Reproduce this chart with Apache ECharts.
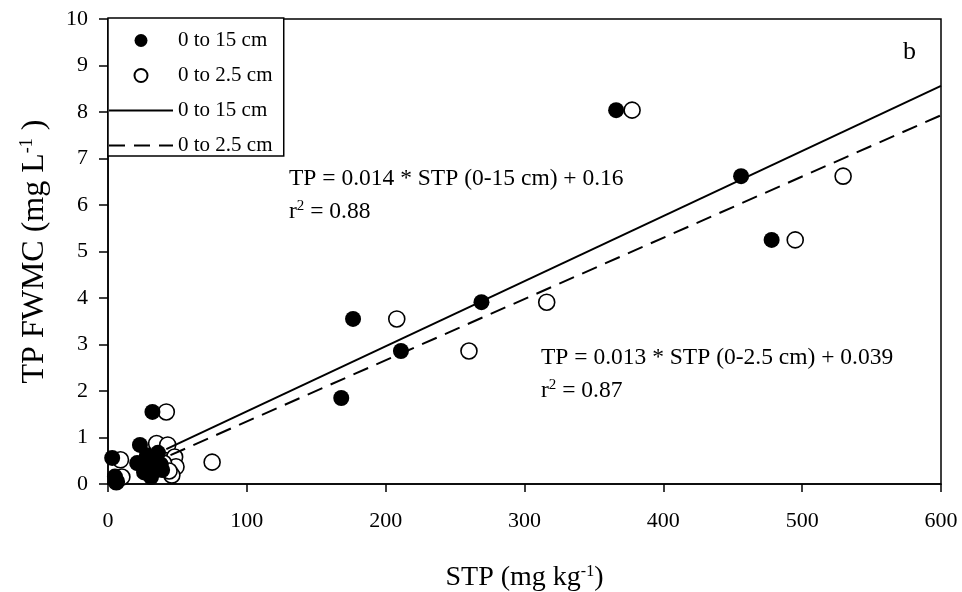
<!DOCTYPE html>
<html>
<head>
<meta charset="utf-8">
<script src="https://cdn.jsdelivr.net/npm/echarts@6/dist/echarts.min.js"></script>
<style>
html,body{margin:0;padding:0;background:#fff;}
#chart{width:962px;height:592px;}
</style>
</head>
<body>
<div id="chart"></div>
<script>
// ---- data ----
var xTicks = [0, 100, 200, 300, 400, 500, 600];
var yTicks = [0, 1, 2, 3, 4, 5, 6, 7, 8, 9, 10];

// 0 to 15 cm (filled circles)
var stp15 = [366, 456, 478, 176.5, 269, 211, 168, 32, 23, 3, 5, 6, 21, 25, 31, 34, 36, 39, 29, 26, 33, 38, 28];
var tp15  = [8.04, 6.62, 5.25, 3.55, 3.91, 2.86, 1.85, 1.55, 0.84, 0.56, 0.16, 0.05, 0.45, 0.37, 0.15, 0.52, 0.67, 0.30, 0.57, 0.25, 0.28, 0.42, 0.62];

// 0 to 2.5 cm (open circles)
var stp25 = [377.5, 529.5, 495, 208, 316, 260, 75, 42, 35, 43, 48, 49, 46, 9, 10, 40, 44, 6];
var tp25  = [8.04, 6.62, 5.25, 3.55, 3.91, 2.86, 0.47, 1.55, 0.87, 0.84, 0.58, 0.37, 0.19, 0.52, 0.15, 0.45, 0.28, 0.05];

// regression lines (end points)
var fit15X = [42, 600];
var fit15Y = [0.75, 8.56];
var fit25X = [45, 600];
var fit25Y = [0.62, 7.93];

function pairs(xs, ys){ return xs.map(function(x,i){ return [x, ys[i]]; }); }

var FONT = '"Liberation Serif", "Times New Roman", serif';
var HIDDEN = 'rgba(0,0,0,0)';

var chart = echarts.init(document.getElementById('chart'), null, {renderer:'canvas'});
chart.setOption({
  animation: false,
  backgroundColor: '#fff',
  textStyle: {fontFamily: FONT, color: '#000'},
  grid: {left: 108, right: 21, top: 19, bottom: 108, containLabel: false, outerBoundsMode: 'none',
    show: true, borderColor: '#000', borderWidth: 1.5, backgroundColor: 'transparent'},
  legend: {
    left: 108, top: 18, orient: 'vertical',
    data: ['0 to 15 cm', '0 to 2.5 cm', '0 to 15 cm ', '0 to 2.5 cm '],
    itemWidth: 64, itemHeight: 13, itemGap: 14,
    padding: [12, 6, 0, 0],
    borderColor: '#000', borderWidth: 1.5, borderRadius: 0,
    backgroundColor: '#fff',
    textStyle: {fontFamily: FONT, fontSize: 21, color: '#000'},
    selectedMode: false
  },
  xAxis: {
    type: 'value', min: 0, max: 600, interval: 100,
    name: 'STP (mg kg{sup|-1})',
    nameLocation: 'middle', nameGap: 80,
    nameTextStyle: {fontFamily: FONT, fontSize: 28, color: '#000',
      rich: {sup: {fontFamily: FONT, fontSize: 16, color: '#000', verticalAlign: 'bottom', padding: [0, 0, 12, 0]}}},
    axisLine: {show: true, onZero: false, lineStyle: {color: '#000', width: 1.5}},
    axisTick: {show: true, inside: false, length: 8, lineStyle: {color: '#000', width: 1.5}},
    axisLabel: {fontFamily: FONT, fontSize: 22, color: '#000', margin: 26,
      formatter: function(v){ return xTicks.indexOf(v) >= 0 ? String(v) : ''; }},
    splitLine: {show: false}
  },
  yAxis: {
    type: 'value', min: 0, max: 10, interval: 1,
    name: 'TP FWMC (mg L{sup|-1} )',
    nameLocation: 'middle', nameGap: 57, nameRotate: 90,
    nameTextStyle: {fontFamily: FONT, fontSize: 32, color: '#000',
      rich: {sup: {fontFamily: FONT, fontSize: 18, color: '#000', verticalAlign: 'bottom', padding: [0, 0, 15, 0]}}},
    axisLine: {show: true, onZero: false, lineStyle: {color: '#000', width: 1.5}},
    axisTick: {show: true, inside: false, length: 9, lineStyle: {color: '#000', width: 1.5}},
    axisLabel: {fontFamily: FONT, fontSize: 22, color: '#000', margin: 20,
      formatter: function(v){ return yTicks.indexOf(v) >= 0 ? String(v) : ''; }},
    splitLine: {show: false}
  },
  graphic: [
    {type: 'text', left: 289, top: 167, z: 100,
      style: {text: 'TP = 0.014 * STP (0-15 cm) + 0.16', font: '23.5px ' + FONT, fill: '#000'}},
    {type: 'text', left: 289, top: 199, z: 100,
      style: {text: 'r{sup|2} = 0.88', font: '23.5px ' + FONT, fill: '#000',
        rich: {sup: {font: '15px ' + FONT, fill: '#000', verticalAlign: 'bottom', padding: [0, 0, 11, 0]}}}},
    {type: 'text', left: 541, top: 346, z: 100,
      style: {text: 'TP = 0.013 * STP (0-2.5 cm) + 0.039', font: '23.5px ' + FONT, fill: '#000'}},
    {type: 'text', left: 541, top: 378, z: 100,
      style: {text: 'r{sup|2} = 0.87', font: '23.5px ' + FONT, fill: '#000',
        rich: {sup: {font: '15px ' + FONT, fill: '#000', verticalAlign: 'bottom', padding: [0, 0, 11, 0]}}}},
    {type: 'text', left: 903, top: 39, z: 100,
      style: {text: 'b', font: '26px ' + FONT, fill: '#000'}}
  ],
  series: [
    {name: '0 to 2.5 cm', type: 'scatter', data: pairs(stp25, tp25), symbol: 'circle', symbolSize: 16, z: 2,
      itemStyle: {color: '#fff', borderColor: '#000', borderWidth: 1.6, opacity: 1},
      emphasis: {disabled: true}},
    {name: '0 to 15 cm', type: 'scatter', data: pairs(stp15, tp15), symbol: 'circle', symbolSize: 16, z: 3,
      itemStyle: {color: '#000', borderColor: '#000', borderWidth: 0, opacity: 1},
      emphasis: {disabled: true}},
    {name: '0 to 15 cm ', type: 'line', data: pairs(fit15X, fit15Y), symbol: 'none', showSymbol: false, z: 4,
      lineStyle: {color: '#000', width: 2, type: 'solid'}, itemStyle: {color: HIDDEN, borderColor: HIDDEN, borderWidth: 0},
      emphasis: {disabled: true}},
    {name: '0 to 2.5 cm ', type: 'line', data: pairs(fit25X, fit25Y), symbol: 'none', showSymbol: false, z: 4,
      lineStyle: {color: '#000', width: 2, type: [16, 9]}, itemStyle: {color: HIDDEN, borderColor: HIDDEN, borderWidth: 0},
      emphasis: {disabled: true}}
  ]
});
</script>
</body>
</html>
